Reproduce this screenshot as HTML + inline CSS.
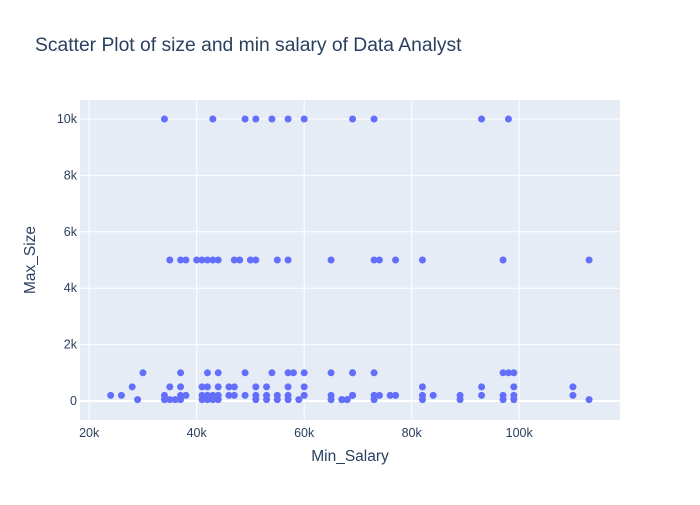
<!DOCTYPE html>
<html><head><meta charset="utf-8"><style>
body{margin:0;background:#fff;font-family:"Liberation Sans",Arial,sans-serif}
svg text{font-family:"Liberation Sans",Arial,sans-serif}
</style></head><body>
<svg id="chart" width="700" height="500">
<rect width="700" height="500" fill="#fff"/>
<text x="35" y="51" font-size="19.3" fill="#2a3f5f">Scatter Plot of size and min salary of Data Analyst</text>
<rect x="80" y="100" width="540" height="320" fill="#e5ecf6"/>
<g id="grid"></g><g id="pts"></g><g id="ticks"></g>
<text x="350" y="461" font-size="15.5" fill="#2a3f5f" text-anchor="middle">Min_Salary</text>
<text x="35" y="260" font-size="15.5" fill="#2a3f5f" text-anchor="middle" transform="rotate(-90 35 260)">Max_Size</text>
</svg>
<script>
const xTicks=[20000,40000,60000,80000,100000];
const xTickLabels=["20k","40k","60k","80k","100k"];
const yTicks=[0,2000,4000,6000,8000,10000];
const yTickLabels=["0","2k","4k","6k","8k","10k"];
const salary1000=[30,37,42,44,49,54,57,58,60,65,69,69,73,97,98,99];
const salary500=[28,35,37,41,42,44,46,47,51,53,57,60,82,93,99,110];
const salary200=[24,26,34,37,38,41,42,43,44,46,47,49,51,53,55,57,60,65,69,69,73,74,76,77,82,84,89,93,97,99,110];
const salary50=[29,34,35,36,37,41,42,43,44,51,53,55,57,59,65,67,68,67,68,73,82,89,97,99,113];
const salary5000=[35,37,38,40,41,42,43,44,47,48,50,51,55,57,65,73,74,77,82,97,113];
const salary10000=[34,43,49,51,54,57,60,69,73,93,98];
const sizeLevels=[50,200,500,1000,5000,10000];
const salaryByLevel=[salary50,salary200,salary500,salary1000,salary5000,salary10000];
const NS="http://www.w3.org/2000/svg";
const X=v=>-18.3+v*5.375/1000, Y=v=>401-v*0.0282;
function mk(t,a,p){const e=document.createElementNS(NS,t);for(const k in a)e.setAttribute(k,a[k]);p.appendChild(e);return e;}
const g=document.getElementById('grid'),tk=document.getElementById('ticks'),pts=document.getElementById('pts');
xTicks.forEach((v,i)=>{const l=mk('line',{x1:X(v),x2:X(v),y1:100,y2:420,stroke:'#fff','stroke-width':1},g);


const t=mk('text',{x:X(v),y:437,'font-size':12.5,fill:'#2a3f5f','text-anchor':'middle'},tk);t.textContent=xTickLabels[i];

});
yTicks.forEach((v,i)=>{const l=mk('line',{x1:80,x2:620,y1:Y(v),y2:Y(v),stroke:'#fff','stroke-width':v===0?2:1},g);


const t=mk('text',{x:77,y:Y(v)+4,'font-size':12.5,fill:'#2a3f5f','text-anchor':'end'},tk);t.textContent=yTickLabels[i];

});
sizeLevels.forEach((s,i)=>salaryByLevel[i].forEach(k=>{const c=mk('circle',{cx:X(k*1000),cy:Y(s),r:3.5,fill:'#636efa'},pts);

}));
</script>
</body></html>
